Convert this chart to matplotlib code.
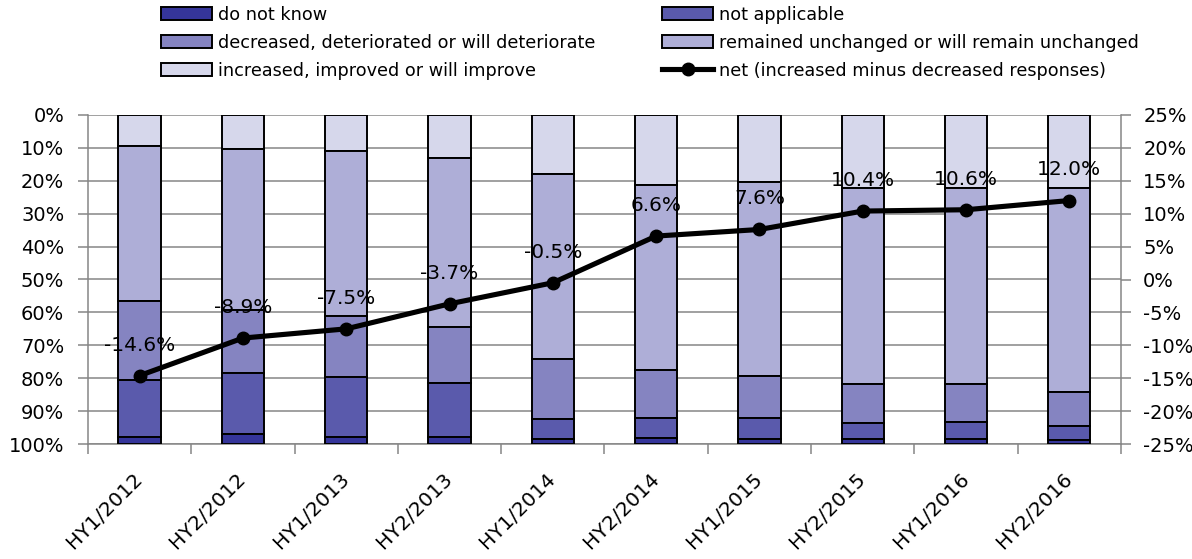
import matplotlib
matplotlib.use("Agg")
import matplotlib.pyplot as plt
import numpy as np

plt.rcParams['font.family'] = ['DejaVu Sans']

periods = ['HY1/2012', 'HY2/2012', 'HY1/2013', 'HY2/2013', 'HY1/2014',
           'HY2/2014', 'HY1/2015', 'HY2/2015', 'HY1/2016', 'HY2/2016']

# shares in %, stacked from the top (0%) downwards
increased = [9.3, 10.2, 10.9, 13.2, 17.9, 21.3, 20.4, 22.1, 22.1, 22.3]
remained = [47.2, 49.1, 50.2, 51.3, 56.2, 56.2, 59.0, 59.7, 59.6, 61.9]
decreased = [23.9, 19.1, 18.4, 16.9, 18.4, 14.7, 12.8, 11.7, 11.5, 10.3]
not_applicable = [17.6, 18.7, 18.3, 16.4, 6.0, 6.1, 6.3, 5.1, 5.4, 4.3]
do_not_know = [2.0, 2.9, 2.2, 2.2, 1.5, 1.7, 1.5, 1.4, 1.4, 1.2]
net = [-14.6, -8.9, -7.5, -3.7, -0.5, 6.6, 7.6, 10.4, 10.6, 12.0]

grey = '#868686'

fig = plt.figure(figsize=(11.92, 5.59), dpi=100)
ax = fig.add_axes([0.0738, 0.2057, 0.8666, 0.5886])

x = np.arange(len(periods))
series = [
    (increased, '#D6D7EB', 'increased, improved or will improve'),
    (remained, '#AEAED7', 'remained unchanged or will remain unchanged'),
    (decreased, '#8584C1', 'decreased, deteriorated or will deteriorate'),
    (not_applicable, '#5A5AAC', 'not applicable'),
    (do_not_know, '#35359A', 'do not know'),
]
bars = {}
bottom = np.zeros(len(periods))
for vals, col, name in series:
    bars[name] = ax.bar(x, vals, 0.41, bottom=bottom, color=col,
                        edgecolor='black', linewidth=1.4, label=name, zorder=3)
    bottom = bottom + np.array(vals)

ax.set_xlim(-0.5, len(periods) - 0.5)
ax.set_ylim(100, 0)
ax.set_yticks(np.arange(0, 101, 10))
ax.set_yticklabels([f'{v}%' for v in range(0, 101, 10)])
ax.yaxis.grid(True, color=grey, linewidth=1.1, zorder=0)
ax.set_axisbelow(True)
ax.set_xticks(x)
ax.set_xticklabels(periods, rotation=45, ha='right', va='center',
                   rotation_mode='anchor', fontsize=14.5)
ax.set_xticks(np.arange(-0.5, len(periods)), minor=True)
ax.tick_params(axis='x', which='major', length=0, pad=23)
ax.tick_params(axis='x', which='minor', length=7, color=grey, width=1.1)
ax.tick_params(axis='y', length=7, color=grey, width=1.1, labelsize=14, pad=10)
for s in ax.spines.values():
    s.set_color(grey)
    s.set_linewidth(1.1)
ax.spines['top'].set_visible(False)

ax2 = ax.twinx()
ax2.set_ylim(-25, 25)
ax2.set_yticks(np.arange(-25, 26, 5))
ax2.set_yticklabels([f'{v}%' for v in range(-25, 26, 5)])
ax2.tick_params(axis='y', length=7, color=grey, width=1.1, labelsize=14, pad=9)
for s in ax2.spines.values():
    s.set_visible(False)
line, = ax2.plot(x, net, color='black', linewidth=3.7, marker='o',
                 markersize=9, label='net (increased minus decreased responses)',
                 zorder=5)
for xi, v in zip(x, net):
    ax2.annotate(f'{v:.1f}%', (xi, v), xytext=(0, 22), textcoords='offset points',
                 ha='center', va='center', fontsize=14.5)

handles = [bars['do not know'], bars['decreased, deteriorated or will deteriorate'],
           bars['increased, improved or will improve'], bars['not applicable'],
           bars['remained unchanged or will remain unchanged'], line]
labels = [h.get_label() for h in handles]
fig.legend(handles, labels, ncol=2, loc='upper left', bbox_to_anchor=(0.122, 1.018),
           frameon=False, fontsize=12.7, handlelength=2.9, handleheight=0.75,
           handletextpad=0.3, columnspacing=3.8, labelspacing=0.56)

fig.savefig('out.png', dpi=100)
